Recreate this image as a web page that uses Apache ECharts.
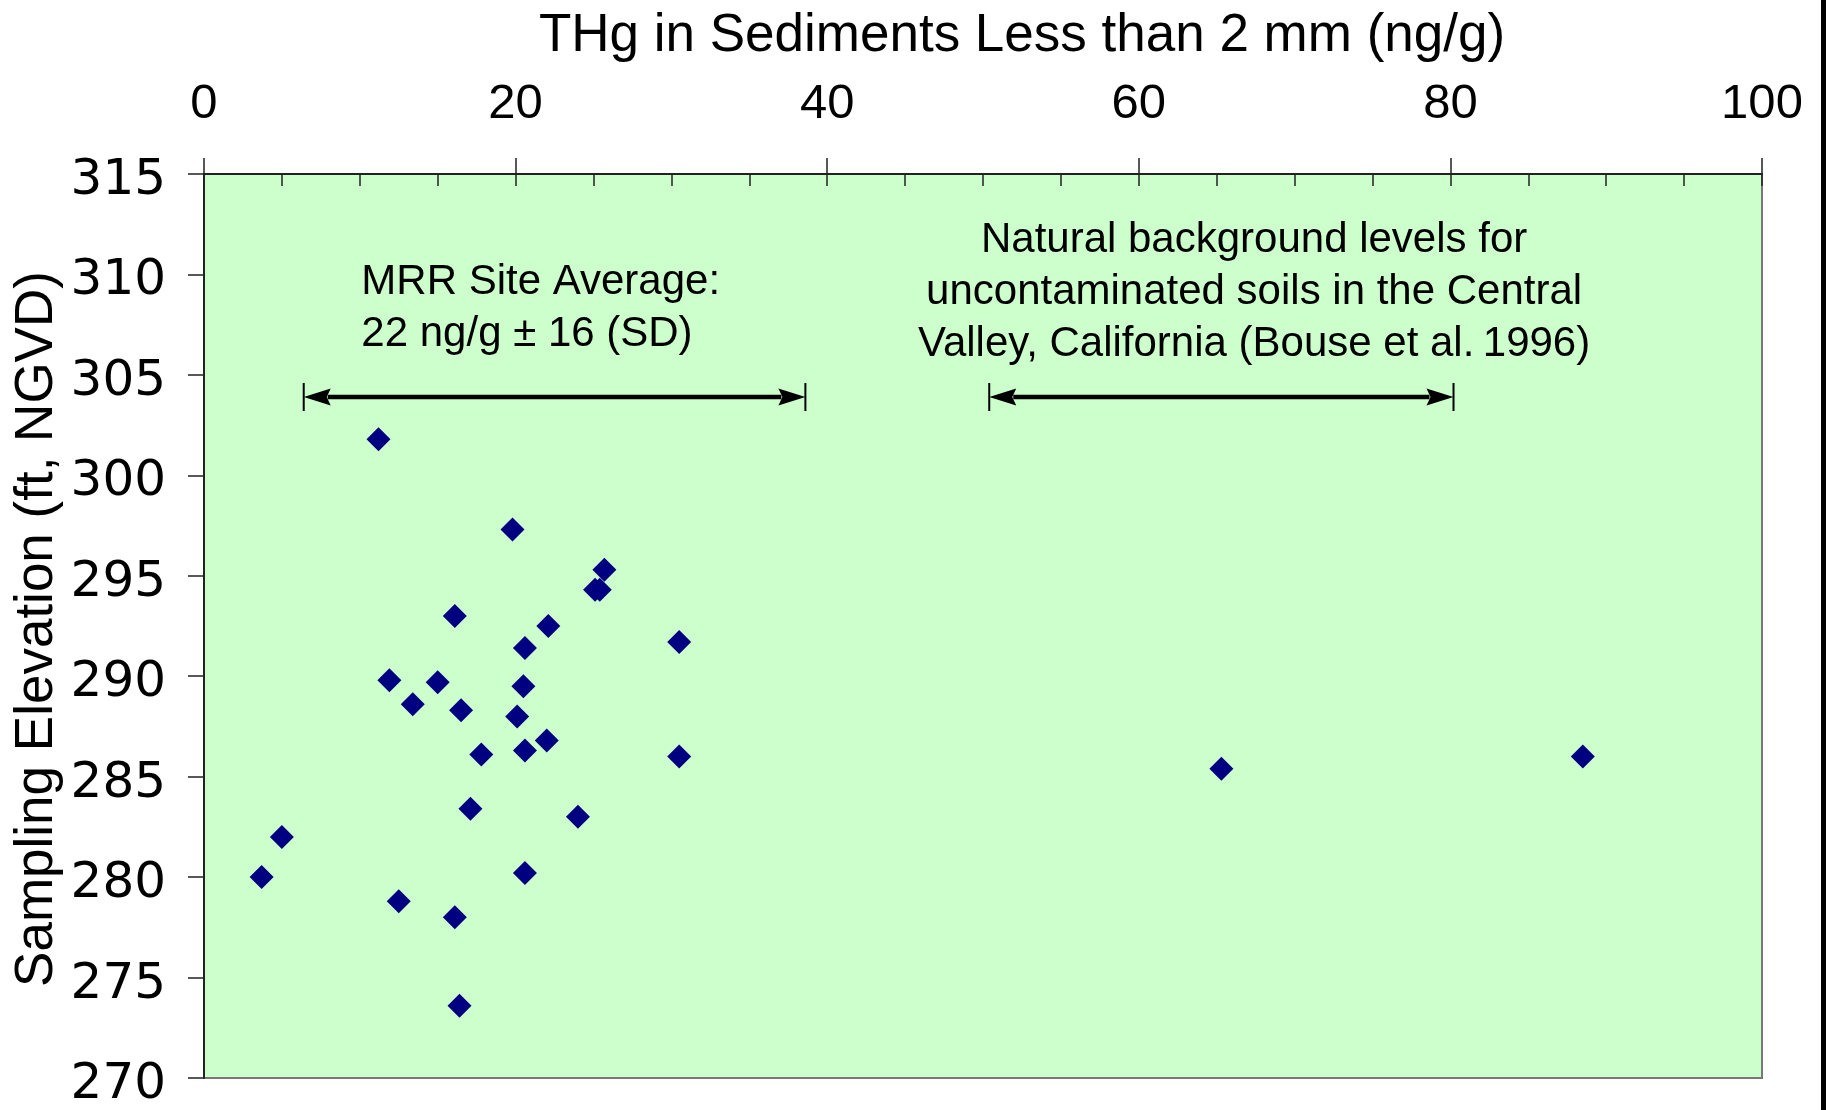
<!DOCTYPE html>
<html>
<head>
<meta charset="utf-8">
<script src="https://cdn.jsdelivr.net/npm/echarts@6/dist/echarts.min.js"></script>
<style>
html,body{margin:0;padding:0;background:#fff;overflow:hidden;}
#chart{width:1826px;height:1110px;}
</style>
</head>
<body>
<div id="chart"></div>
<script>
// ---- data ----
const thgValues = [11.2, 19.8, 25.7, 25.1, 25.4, 16.1, 22.1, 30.5, 20.6, 11.9, 15.0, 20.5, 13.4, 16.5, 20.1, 22.0, 17.8, 20.6, 30.5, 17.1, 24.0, 5.0, 3.7, 20.6, 12.5, 16.1, 16.4, 65.3, 88.5];
const elevValues = [301.8, 297.3, 295.3, 294.3, 294.3, 293.0, 292.5, 291.7, 291.4, 289.8, 289.7, 289.5, 288.6, 288.3, 288.0, 286.8, 286.1, 286.3, 286.0, 283.4, 283.0, 282.0, 280.0, 280.2, 278.8, 278.0, 273.6, 285.4, 286.0];
const xTicks = [0, 20, 40, 60, 80, 100];
const yTicks = [270, 275, 280, 285, 290, 295, 300, 305, 310, 315];
const arrowStart = [6.4, 50.4];
const arrowEnd = [38.6, 80.2];
const arrowElev = [303.9, 303.9];
const noteTexts = ['MRR Site Average:\n22 ng/g \u00b1 16 (SD)', 'Natural background levels for\nuncontaminated soils in the Central\nValley, California (Bouse et al.\u20091996)'];
const noteX = [10.1, 67.4];
const noteY = [308.3, 309.1];
const noteAlign = ['left', 'center'];
const xTitle = 'THg in Sediments Less than 2 mm (ng/g)';
const yTitle = 'Sampling Elevation (ft, NGVD)';

const chart = echarts.init(document.getElementById('chart'));
const points = thgValues.map((v, i) => [v, elevValues[i]]);
const arrows = arrowStart.map((v, i) => [v, arrowEnd[i], arrowElev[i]]);
const FONT = "'Liberation Sans', Arial, sans-serif";

chart.setOption({
  animation: false,
  backgroundColor: '#ffffff',
  grid: {
    left: 204, right: 64, top: 174, bottom: 29,
    show: true, backgroundColor: '#CCFFCC', borderColor: '#777777', borderWidth: 2
  },
  xAxis: [{
    type: 'value', position: 'top', min: xTicks[0], max: xTicks[xTicks.length - 1], interval: 20,
    axisLine: { show: true, lineStyle: { color: '#222', width: 2 } },
    axisTick: { show: true, length: 16, lineStyle: { color: '#222', width: 1.5 } },
    axisLabel: { margin: 45, fontSize: 49, fontFamily: FONT, color: '#000' },
    splitLine: { show: false }
  }, {
    type: 'value', position: 'top', min: 0, max: 100, interval: 5,
    axisLine: { show: false },
    axisTick: { show: true, inside: true, length: 12, lineStyle: { color: '#222', width: 1.5 } },
    axisLabel: { show: false },
    splitLine: { show: false }
  }],
  yAxis: {
    type: 'value', min: yTicks[0], max: yTicks[yTicks.length - 1], interval: 5,
    axisLine: { show: true, lineStyle: { color: '#222', width: 2 } },
    axisTick: { show: true, length: 16, lineStyle: { color: '#222', width: 1.5 } },
    axisLabel: { margin: 38, fontSize: 50, fontFamily: "'DejaVu Sans', sans-serif", color: '#000', verticalAlign: 'top', lineHeight: 14 },
    splitLine: { show: false }
  },
  series: [{
    type: 'scatter', xAxisIndex: 0,
    data: points,
    symbol: 'diamond', symbolSize: 24,
    itemStyle: { color: '#000080', opacity: 1 }
  }, {
    type: 'custom', xAxisIndex: 0,
    data: arrows,
    encode: { x: [0, 1], y: 2 },
    renderItem: function (params, api) {
      const p1 = api.coord([api.value(0), api.value(2)]);
      const p2 = api.coord([api.value(1), api.value(2)]);
      const ah = 27, hw = 8.5, bar = 14;
      return {
        type: 'group',
        children: [
          { type: 'line', shape: { x1: p1[0] + ah - 3, y1: p1[1], x2: p2[0] - ah + 3, y2: p2[1] }, style: { stroke: '#000', lineWidth: 4.5 } },
          { type: 'polygon', shape: { points: [[p1[0], p1[1]], [p1[0] + ah, p1[1] - hw], [p1[0] + ah - 4, p1[1]], [p1[0] + ah, p1[1] + hw]] }, style: { fill: '#000' } },
          { type: 'polygon', shape: { points: [[p2[0], p2[1]], [p2[0] - ah, p2[1] - hw], [p2[0] - ah + 4, p2[1]], [p2[0] - ah, p2[1] + hw]] }, style: { fill: '#000' } },
          { type: 'line', shape: { x1: p1[0], y1: p1[1] - bar, x2: p1[0], y2: p1[1] + bar }, style: { stroke: '#000', lineWidth: 2 } },
          { type: 'line', shape: { x1: p2[0], y1: p2[1] - bar, x2: p2[0], y2: p2[1] + bar }, style: { stroke: '#000', lineWidth: 2 } }
        ]
      };
    }
  }]
});

const graphics = [
  { type: 'text', x: 1022, y: 36, style: { text: xTitle, font: "53px " + FONT, fill: '#000', textAlign: 'center', textVerticalAlign: 'middle' } },
  { type: 'text', x: 37, y: 629, rotation: Math.PI / 2, style: { text: yTitle, font: "53px " + FONT, fill: '#000', textAlign: 'center', textVerticalAlign: 'middle' } },
  { type: 'rect', z: 100, shape: { x: 1821, y: 0, width: 5, height: 1110 }, style: { fill: '#000' } }
];
noteTexts.forEach((t, i) => {
  const p = chart.convertToPixel({ xAxisIndex: 0, yAxisIndex: 0 }, [noteX[i], noteY[i]]);
  graphics.push({
    type: 'text', x: p[0], y: p[1],
    style: { text: t, font: "42px " + FONT, lineHeight: 52, fill: '#000', textAlign: noteAlign[i], textVerticalAlign: 'middle' }
  });
});
chart.setOption({ graphic: graphics });
</script>
</body>
</html>
